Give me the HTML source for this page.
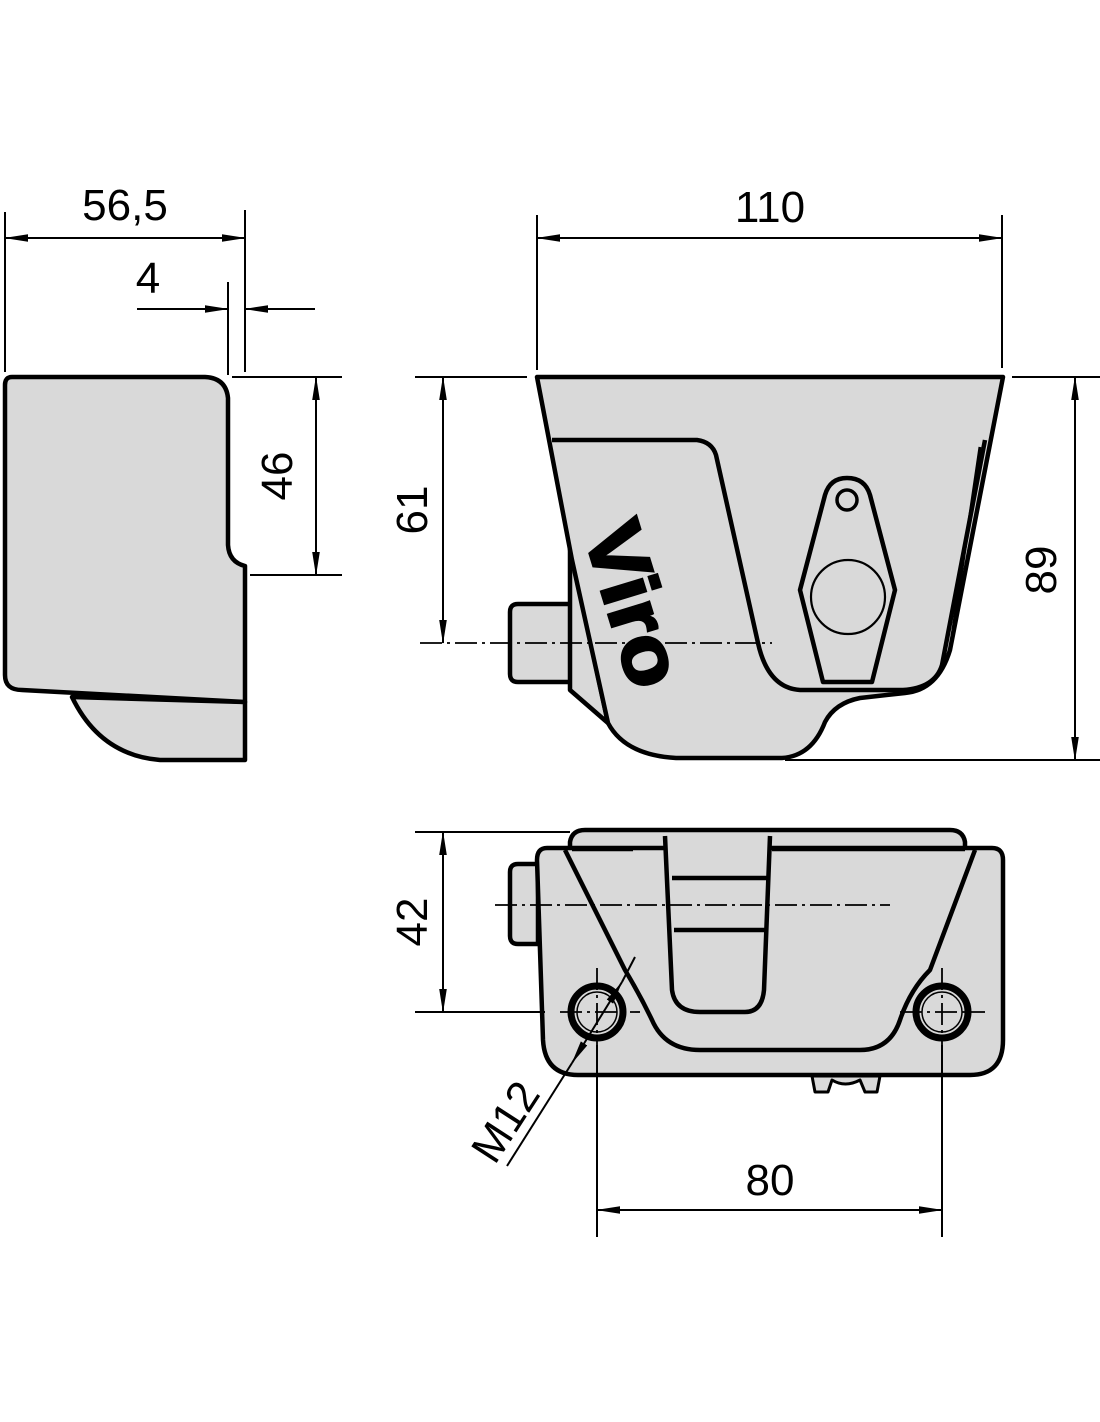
<!DOCTYPE html>
<html><head><meta charset="utf-8"><style>html,body{margin:0;padding:0;background:#fff}svg{display:block}</style></head>
<body>
<svg width="1100" height="1422" viewBox="0 0 1100 1422" xmlns="http://www.w3.org/2000/svg" font-family="Liberation Sans, sans-serif">
<defs>
<marker id="a" markerWidth="24" markerHeight="10" refX="23" refY="5" orient="auto-start-reverse" markerUnits="userSpaceOnUse"><path d="M0,1.2 L24,5 L0,8.8 Z" fill="#000"/></marker>
</defs>
<g fill="#d9d9d9" stroke="#000" stroke-width="4.5" stroke-linejoin="round">
<!-- side view -->
<path d="M72,697 Q100,755 160,760 H245 V702 Z"/>
<path d="M12,377 H205 Q226,378 228,398 V545 Q229,562 245,566 V702 L22,690 Q5,690 5,675 V385 Q5,377 12,377 Z"/>
<!-- front view -->
<path d="M510,612 Q510,604 518,604 H572 V682 H518 Q510,682 510,674 Z"/>
<path d="M570,547 V690 L608,723 Z"/>
<path d="M537,377 H1003 L950,650 Q938,690 905,693 L860,698 Q835,703 825,722 Q812,756 782,758 H676 Q625,755 608,723 L572,560 Z"/>
<path d="M552,440 H697 Q712,442 716,455 L758,643 Q768,688 800,690 H903 Q935,688 942,665 L985,440" fill="none"/>
<path d="M980,447 L950,650" fill="none" stroke-width="3"/>
<path d="M847,478 Q865,478 870,495 L895,590 L872,682 H823 L800,590 L825,495 Q830,478 847,478 Z"/>
<circle cx="847" cy="500" r="10" stroke-width="3.5"/>
<circle cx="848" cy="597" r="37" stroke-width="2.2"/>
<!-- top view -->
<path d="M510,872 Q510,864 518,864 H538 V944 H518 Q510,944 510,936 Z"/>
<path d="M570,852 V842 Q572,830 585,830 H950 Q963,830 965,842 V852 Z"/>
<path d="M547,848 H992 Q1003,848 1003,860 V1040 Q1003,1075 970,1075 H578 Q545,1075 543,1040 L537,860 Q537,848 547,848 Z"/>
<path d="M565,850 L625,970 Q640,995 652,1020 Q665,1050 700,1050 H860 Q890,1050 900,1020 Q910,990 930,970 L975,850" fill="none"/>
<path d="M665,836 L672,990 Q675,1012 700,1012 H745 Q762,1012 764,990 L770,836" />
<line x1="672" y1="878" x2="767" y2="878"/>
<line x1="674" y1="930" x2="765" y2="930"/>
<line x1="572" y1="849" x2="633" y2="849"/>
<line x1="772" y1="849" x2="965" y2="849"/>
<circle cx="597" cy="1012" r="26" stroke-width="7"/>
<circle cx="597" cy="1012" r="20" stroke-width="1.5"/>
<circle cx="942" cy="1012" r="26" stroke-width="7"/>
<circle cx="942" cy="1012" r="20" stroke-width="1.5"/>
<path d="M812,1076 L815,1092 H828 L832,1080 Q845,1088 860,1080 L865,1092 H877 L880,1076 Z" stroke-width="3"/>
</g>
<!-- Viro -->
<text x="0" y="0" transform="translate(628,606) rotate(73)" font-size="80" font-weight="bold" text-anchor="middle" dominant-baseline="middle" textLength="168" lengthAdjust="spacingAndGlyphs" stroke="#000" stroke-width="3">Viro</text>
<!-- dimension lines -->
<g stroke="#000" stroke-width="2" fill="none">
<line x1="5" y1="212" x2="5" y2="372"/>
<line x1="245" y1="210" x2="245" y2="372"/>
<line x1="5" y1="238" x2="245" y2="238" marker-start="url(#a)" marker-end="url(#a)"/>
<line x1="228" y1="282" x2="228" y2="375"/>
<line x1="137" y1="309" x2="228" y2="309" marker-end="url(#a)"/>
<line x1="315" y1="309" x2="245" y2="309" marker-end="url(#a)"/>
<line x1="232" y1="377" x2="342" y2="377"/>
<line x1="250" y1="575" x2="342" y2="575"/>
<line x1="316" y1="377" x2="316" y2="575" marker-start="url(#a)" marker-end="url(#a)"/>
<line x1="537" y1="215" x2="537" y2="370"/>
<line x1="1002" y1="215" x2="1002" y2="368"/>
<line x1="537" y1="238" x2="1002" y2="238" marker-start="url(#a)" marker-end="url(#a)"/>
<line x1="415" y1="377" x2="527" y2="377"/>
<line x1="443" y1="377" x2="443" y2="643" marker-start="url(#a)" marker-end="url(#a)"/>
<line x1="1012" y1="377" x2="1100" y2="377"/>
<line x1="785" y1="760" x2="1100" y2="760"/>
<line x1="1075" y1="377" x2="1075" y2="760" marker-start="url(#a)" marker-end="url(#a)"/>
<line x1="415" y1="832" x2="570" y2="832"/>
<line x1="415" y1="1012" x2="545" y2="1012"/>
<line x1="443" y1="832" x2="443" y2="1012" marker-start="url(#a)" marker-end="url(#a)"/>
<line x1="597" y1="1045" x2="597" y2="1237"/>
<line x1="942" y1="1045" x2="942" y2="1237"/>
<line x1="597" y1="1210" x2="942" y2="1210" marker-start="url(#a)" marker-end="url(#a)"/>
<line x1="507" y1="1166" x2="572" y2="1063"/>
<line x1="572" y1="1063" x2="622" y2="982" marker-start="url(#a)" marker-end="url(#a)"/>
<line x1="622" y1="982" x2="635" y2="957"/>
</g>
<g stroke="#000" stroke-width="1.8" fill="none" stroke-dasharray="22,5,3,5">
<line x1="420" y1="643" x2="772" y2="643"/>
<line x1="495" y1="905" x2="890" y2="905"/>
<line x1="560" y1="1012" x2="640" y2="1012"/>
<line x1="597" y1="968" x2="597" y2="1045"/>
<line x1="900" y1="1012" x2="985" y2="1012"/>
<line x1="942" y1="968" x2="942" y2="1045"/>
</g>
<g font-size="44" fill="#000" text-anchor="middle">
<text x="125" y="220">56,5</text>
<text x="148" y="293">4</text>
<text x="770" y="222">110</text>
<text transform="translate(292,476) rotate(-90)">46</text>
<text transform="translate(427,510) rotate(-90)">61</text>
<text transform="translate(1056,570) rotate(-90)">89</text>
<text transform="translate(427,922) rotate(-90)">42</text>
<text x="770" y="1195">80</text>
<text transform="translate(518,1130) rotate(-57)">M12</text>
</g>
</svg>
</body></html>
